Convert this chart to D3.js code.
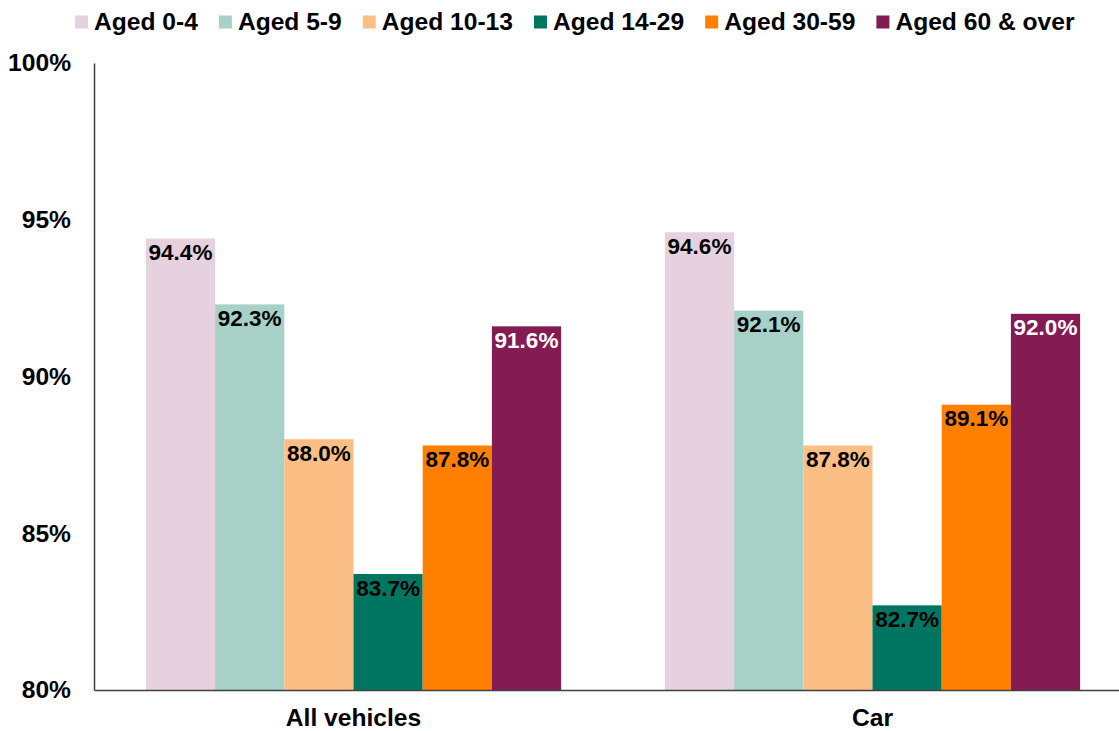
<!DOCTYPE html>
<html><head><meta charset="utf-8">
<script src="https://cdn.jsdelivr.net/npm/d3@7"></script>
<style>body{margin:0;background:#fff}svg{display:block}text{font-family:"Liberation Sans",Arial,sans-serif;font-weight:bold}</style>
</head><body><svg id="c" width="1119" height="731"></svg>
<script>
const categories = ["All vehicles", "Car"];
const seriesNames = ["Aged 0-4", "Aged 5-9", "Aged 10-13", "Aged 14-29", "Aged 30-59", "Aged 60 & over"];
const allVehicles = [94.4, 92.3, 88.0, 83.7, 87.8, 91.6];
const car = [94.6, 92.1, 87.8, 82.7, 89.1, 92.0];
const yTicks = [80, 85, 90, 95, 100];
const colors = ["#E6D1DE", "#A7D0C7", "#FBBF85", "#007561", "#FF8000", "#841B52"];
const labelColors = ["#000", "#000", "#000", "#000", "#000", "#fff"];

(function () {
const values = [allVehicles, car];
const svg = d3.select("#c");
const mLeft = 94, mTop = 63, mBottom = 690;
const bigFont = 24.6;
const y = d3.scaleLinear().domain([80, 100]).range([mBottom, mTop]);
const x0 = d3.scaleBand().domain(categories).range([mLeft, 1132]).padding(0);
const x1 = d3.scaleBand().domain(seriesNames).range([0, x0.bandwidth()]).paddingInner(0).paddingOuter(0.75);

// bars
categories.forEach((c, ci) => {
  const g = svg.append("g").attr("transform", `translate(${x0(c)},0)`);
  seriesNames.forEach((s, si) => {
    const v = values[ci][si];
    g.append("rect").attr("x", x1(s)).attr("y", y(v)).attr("width", x1.bandwidth()).attr("height", y(80) - y(v)).attr("fill", colors[si]);
    g.append("text").attr("x", x1(s) + x1.bandwidth() / 2).attr("y", y(v) + 21.5).attr("text-anchor", "middle")
      .attr("font-size", 22.5).attr("fill", labelColors[si]).text(v.toFixed(1) + "%");
  });
});

// y axis
const yAxis = d3.axisLeft(y).tickValues(yTicks).tickSize(0).tickPadding(23).tickFormat(d => d + "%");
const ya = svg.append("g").attr("transform", `translate(${mLeft},0)`).call(yAxis);
ya.select(".domain").attr("stroke", "#404040").attr("stroke-width", 1.5);
ya.selectAll("text").attr("font-size", bigFont).attr("fill", "#000").attr("font-family", "Liberation Sans, Arial, sans-serif").attr("font-weight", "bold");

// x axis
const xa = svg.append("g").attr("transform", `translate(0,${mBottom})`).call(d3.axisBottom(x0).tickSize(0).tickPadding(19));
xa.select(".domain").attr("stroke", "#404040").attr("stroke-width", 1.5);
xa.selectAll("text").attr("font-size", bigFont).attr("fill", "#000").attr("font-family", "Liberation Sans, Arial, sans-serif").attr("font-weight", "bold");

// legend
let lx = 75;
const lg = svg.append("g");
seriesNames.forEach((s, si) => {
  lg.append("rect").attr("x", lx).attr("y", 15.5).attr("width", 13).attr("height", 13).attr("fill", colors[si]);
  const t = lg.append("text").attr("x", lx + 19).attr("y", 30).attr("font-size", bigFont).attr("fill", "#000").text(s);
  lx += 19 + t.node().getComputedTextLength() + 21;
});
})();
</script></body></html>
